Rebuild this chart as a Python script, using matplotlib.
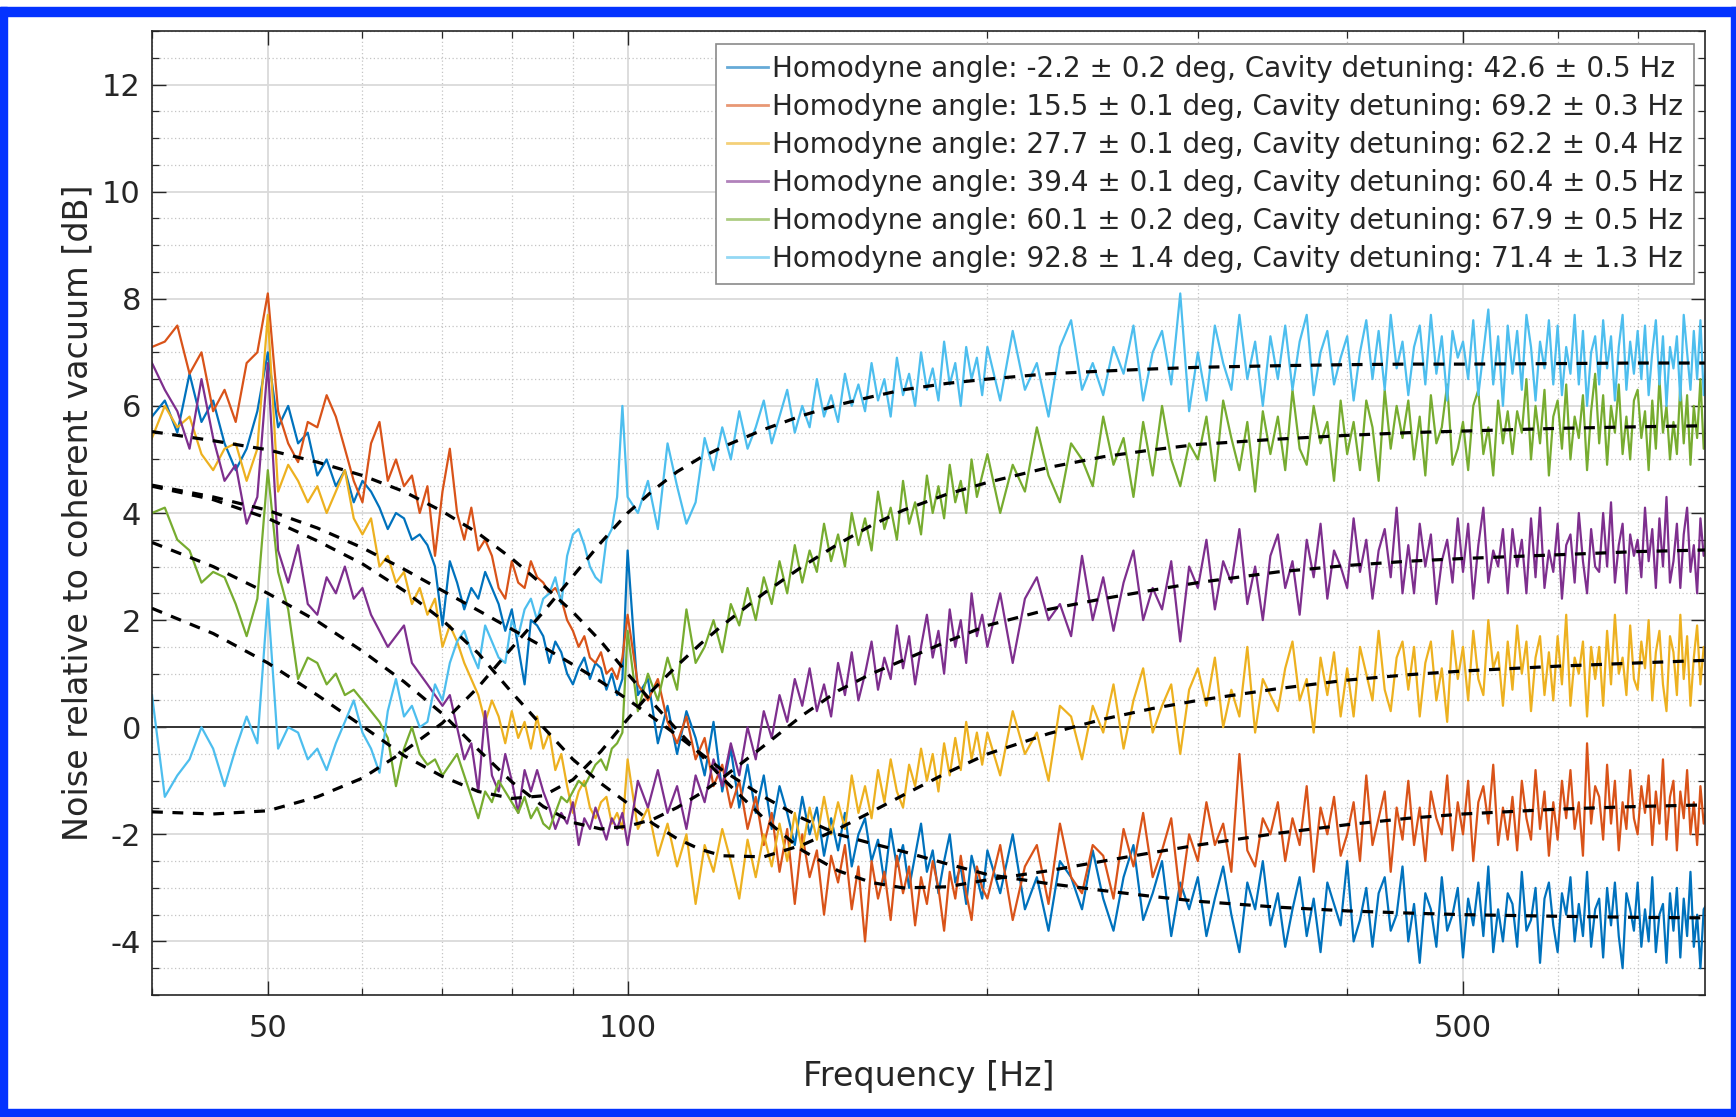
import matplotlib
matplotlib.use("Agg")
import matplotlib.pyplot as plt
from matplotlib.ticker import FixedLocator, NullFormatter, MultipleLocator
from matplotlib.patches import Rectangle
from matplotlib.lines import Line2D

# ---------------- data ----------------
# frequency bins of the measured spectra [Hz]
freq = list(range(40, 100)) + list(range(100, 200, 2)) + list(range(200, 801, 5))

blue_db = [
    5.8, 6.1, 5.5, 6.6, 5.7, 6.1, 5.3, 4.8, 5.2, 5.9,
    7.0, 5.6, 6.0, 5.3, 5.5, 4.7, 5.0, 4.5, 4.8, 4.2,
    4.6, 4.4, 4.1, 3.7, 4.0, 3.9, 3.5, 3.6, 3.4, 3.0,
    1.9, 3.1, 2.7, 2.2, 2.6, 2.4, 2.9, 2.6, 2.3, 1.8,
    2.2, 1.5, 0.8, 2.0, 1.9, 1.7, 1.2, 1.6, 1.4, 1.0,
    0.8, 1.1, 1.3, 0.9, 1.2, 1.1, 0.7, 1.0, 0.6, 0.9,
] + [
    3.3, 0.6, 0.9, -0.3, 0.4, -0.5, 0.3, -0.2, -0.9, 0.1,
    -1.2, -0.4, -1.5, -0.7, -1.6, -0.9, -1.9, -1.1, -1.6, -2.2,
    -1.3, -2.0, -1.5, -2.4, -1.7, -2.3, -1.6, -2.6, -2.0, -1.7,
    -2.5, -2.1, -2.9, -1.9, -2.6, -2.2, -3.0, -2.4, -1.8, -2.7,
    -2.3, -3.1, -2.5, -2.0, -2.9, -2.6, -3.3, -2.4, -2.8, -3.2,
] + [
    -2.3, -3.1, -2.0, -3.4, -2.8, -3.8, -2.5, -2.8, -3.4, -2.3,
    -3.2, -3.8, -2.8, -2.2, -3.6, -3.1, -2.5, -3.9, -2.9, -3.4,
    -2.8, -3.9, -3.2, -2.6, -3.5, -4.2, -2.9, -3.4, -2.5, -3.7,
    -3.1, -4.1, -3.4, -2.8, -3.9, -3.2, -4.2, -2.9, -3.3, -3.7,
    -2.5, -4.0, -3.6, -3.0, -4.1, -3.1, -2.8, -3.8, -3.5, -2.6,
    -4.0, -3.3, -4.4, -3.1, -3.4, -4.1, -2.8, -3.8, -3.5, -3.0,
    -4.3, -3.2, -3.7, -2.9, -3.9, -2.6, -4.2, -3.4, -4.0, -3.1,
    -3.3, -4.1, -2.7, -3.8, -3.6, -3.0, -4.4, -3.2, -2.9, -3.7,
    -4.2, -3.1, -3.5, -2.8, -4.0, -3.3, -3.9, -2.7, -4.1, -3.4,
    -3.2, -4.3, -3.0, -3.7, -2.9, -3.9, -4.5, -3.1, -3.4, -3.8,
    -2.9, -4.1, -3.4, -4.0, -2.8, -4.2, -3.5, -3.3, -4.4, -3.1,
    -3.8, -3.0, -4.3, -3.2, -3.9, -2.7, -4.1, -3.5, -4.5, -3.4,
    -3.3,
]

orange_db = [
    7.1, 7.2, 7.5, 6.6, 7.0, 5.9, 6.3, 5.7, 6.8, 7.0,
    8.1, 5.9, 5.3, 4.95, 5.7, 5.6, 6.2, 5.8, 5.2, 4.6,
    4.2, 5.3, 5.7, 4.6, 5.0, 4.5, 4.7, 4.0, 4.5, 3.2,
    4.4, 5.2, 4.0, 3.5, 4.1, 3.3, 3.5, 3.2, 2.6, 2.4,
    3.1, 2.7, 2.6, 3.1, 2.8, 2.7, 2.5, 2.6, 2.4, 2.0,
    1.8, 1.5, 1.7, 1.3, 1.2, 1.4, 1.0, 1.1, 0.9, 1.3,
] + [
    2.1, 0.8, 0.5, 0.9, 0.1, -0.3, 0.2, -0.6, -0.2, -1.1,
    -0.7, -1.5, -1.0, -1.9, -1.3, -2.2, -1.6, -2.7, -1.9, -3.3,
    -2.0, -2.8, -2.3, -3.5, -2.4, -2.9, -2.2, -3.4, -2.6, -4.0,
    -2.5, -3.2, -2.7, -3.6, -2.4, -3.1, -2.6, -3.7, -2.8, -3.3,
    -2.5, -3.0, -3.8, -2.7, -3.2, -2.4, -3.1, -3.6, -2.6, -3.0,
] + [
    -3.2, -2.2, -3.6, -2.6, -2.2, -3.3, -1.8, -2.8, -3.1, -2.2,
    -2.4, -3.2, -1.9, -2.6, -1.6, -2.8, -2.3, -1.7, -3.2, -2.0,
    -2.5, -1.4, -2.2, -1.8, -2.7, -0.5, -2.3, -2.6, -1.7, -2.0,
    -1.4, -2.5, -1.7, -2.2, -1.1, -2.7, -1.5, -2.0, -1.3, -2.4,
    -2.0, -1.4, -2.5, -0.9, -2.2, -1.7, -1.2, -2.7, -1.5, -2.1,
    -1.0, -2.2, -1.5, -2.5, -1.2, -1.7, -2.0, -0.9, -2.3, -1.4,
    -2.0, -1.0, -2.5, -1.4, -1.1, -1.8, -0.7, -2.2, -1.5, -2.1,
    -1.3, -2.3, -1.0, -1.7, -2.1, -0.8, -1.9, -1.2, -2.4, -1.4,
    -2.1, -1.0, -1.7, -0.8, -1.9, -1.4, -2.4, -0.3, -1.8, -1.1,
    -1.3, -2.1, -0.7, -1.8, -1.0, -2.3, -1.4, -1.9, -0.8, -1.7,
    -2.0, -1.1, -1.6, -0.9, -2.2, -1.2, -1.8, -0.6, -2.1, -1.3,
    -1.0, -2.3, -1.2, -1.7, -0.8, -2.0, -1.4, -2.2, -1.1, -1.8,
    -1.5,
]

yellow_db = [
    5.4, 6.0, 5.6, 5.8, 5.1, 4.8, 5.2, 5.3, 4.6, 5.2,
    7.7, 4.4, 4.9, 4.6, 4.2, 4.5, 4.0, 4.4, 4.8, 3.9,
    3.6, 3.9, 3.0, 3.2, 2.7, 2.9, 2.3, 2.6, 2.1, 2.4,
    1.5, 1.9, 1.6, 1.2, 0.9, 0.6, 0.1, 0.5, 0.2, -0.3,
    0.3, -0.2, 0.1, -0.4, 0.2, -0.4, -0.1, -0.8, -0.5, -1.1,
    -1.6, -1.2, -1.0, -1.5, -1.7, -1.4, -1.3, -1.8, -1.6, -1.9,
] + [
    -0.6, -1.9, -1.5, -2.4, -1.8, -2.6, -2.0, -3.3, -2.2, -2.7,
    -1.9, -2.5, -3.2, -2.1, -2.8, -2.0, -2.6, -1.8, -2.5, -1.6,
    -2.3, -1.5, -2.1, -1.3, -2.0, -1.4, -1.9, -0.9, -1.6, -1.1,
    -1.7, -0.8, -1.4, -0.6, -1.2, -1.5, -0.7, -1.1, -0.4, -1.0,
    -0.5, -1.2, -0.3, -0.9, -0.2, -0.8, 0.1, -0.6, -0.1, -0.7,
] + [
    -0.1, -0.9, 0.3, -0.5, -0.1, -1.0, 0.4, 0.2, -0.6, 0.4,
    -0.1, 0.8, -0.4, 0.5, 1.1, -0.1, 0.4, 0.8, -0.5, 0.7,
    1.1, 0.4, 1.3, 0.0, 0.7, 0.2, 1.5, -0.1, 0.9, 0.6,
    0.3, 1.1, 1.6, 0.5, 0.9, -0.1, 1.3, 0.6, 1.4, 0.2,
    1.1, 0.2, 1.5, 1.0, 0.5, 1.8, 0.7, 0.3, 1.3, 1.6,
    0.7, 1.5, 0.2, 1.2, 1.6, 0.5, 1.1, 0.1, 1.8, 0.9,
    1.5, 0.5, 1.8, 0.9, 0.6, 2.0, 1.1, 1.4, 0.4, 1.6,
    0.7, 1.9, 1.0, 1.6, 0.3, 1.3, 1.7, 0.6, 1.4, 0.5,
    1.7, 0.8, 2.1, 0.4, 1.3, 1.0, 1.6, 0.2, 1.5, 0.9,
    1.5, 0.4, 1.8, 0.8, 2.1, 1.0, 1.3, 0.6, 1.9, 0.9,
    0.7, 1.6, 1.1, 2.0, 0.5, 1.4, 1.8, 0.8, 0.3, 1.7,
    1.4, 0.6, 2.1, 0.9, 1.7, 0.4, 1.3, 1.9, 0.8, 1.5,
    1.2,
]

purple_db = [
    6.8, 6.3, 5.9, 5.2, 6.5, 5.4, 4.6, 4.9, 3.8, 4.3,
    6.8, 3.3, 2.7, 3.4, 2.3, 2.1, 2.8, 2.5, 3.0, 2.4,
    2.6, 2.1, 1.8, 1.5, 1.7, 1.9, 1.2, 1.0, 0.8, 0.6,
    0.4, 0.6, 0.0, -0.6, -0.3, -1.2, 0.3, -0.9, -1.2, -0.5,
    -1.0, -1.6, -0.8, -1.2, -0.8, -1.2, -1.5, -1.9, -1.6, -1.8,
    -1.4, -2.2, -1.7, -1.9, -1.5, -1.8, -2.1, -1.7, -1.9, -1.6,
] + [
    -2.2, -1.0, -1.5, -0.8, -1.6, -1.1, -1.9, -0.9, -1.4, -0.6,
    -1.1, -0.3, -0.9, 0.0, -0.6, 0.3, -0.2, 0.6, 0.1, 0.9,
    0.4, 1.1, 0.3, 0.8, 0.2, 1.2, 0.6, 1.4, 0.5, 1.0,
    1.6, 0.7, 1.3, 0.9, 1.9, 1.1, 1.7, 0.8, 1.5, 2.1,
    1.3, 1.8, 1.0, 2.2, 1.5, 2.0, 1.2, 2.5, 1.7, 2.1,
] + [
    1.5, 2.5, 1.2, 2.4, 2.8, 2.0, 2.3, 1.7, 3.2, 2.0,
    2.8, 1.8, 2.7, 3.3, 2.0, 2.6, 2.2, 3.1, 1.6, 3.0,
    2.6, 3.5, 2.2, 3.1, 2.7, 3.7, 2.3, 3.0, 2.0, 3.2,
    3.6, 2.6, 3.1, 2.1, 3.5, 2.8, 3.8, 2.4, 3.3, 3.0,
    2.6, 3.9, 2.9, 3.5, 2.4, 3.3, 3.7, 2.8, 4.1, 2.5,
    3.4, 2.5, 3.8, 3.0, 3.6, 2.3, 3.1, 3.5, 2.7, 3.9,
    2.9, 3.8, 2.4, 3.4, 4.1, 2.7, 3.3, 3.0, 3.7, 2.5,
    3.7, 3.0, 3.5, 2.5, 3.9, 2.8, 4.1, 2.6, 3.3, 2.9,
    3.8, 2.4, 3.4, 3.6, 2.7, 4.0, 3.1, 2.5, 3.7, 3.0,
    2.9, 4.0, 3.0, 4.2, 2.7, 3.4, 3.8, 2.5, 3.6, 3.2,
    3.5, 2.8, 4.1, 3.1, 3.7, 2.6, 3.9, 3.0, 4.3, 2.7,
    3.1, 3.8, 2.6, 3.6, 4.1, 2.9, 3.4, 2.5, 3.9, 3.2,
    3.4,
]

green_db = [
    4.0, 4.1, 3.5, 3.3, 2.7, 2.9, 2.8, 2.3, 1.7, 2.4,
    4.8, 2.9, 2.2, 0.9, 1.3, 1.2, 0.8, 1.0, 0.6, 0.7,
    0.5, 0.3, 0.1, -0.2, -1.1, -0.4, 0.0, -0.5, -0.7, -0.6,
    -0.9, -0.7, -0.5, -0.9, -1.3, -1.7, -1.2, -1.4, -1.0, -1.2,
    -1.4, -1.6, -1.3, -1.7, -1.5, -1.8, -1.9, -1.6, -1.3, -1.4,
    -1.2, -1.0, -1.1, -0.9, -0.7, -0.6, -0.8, -0.4, -0.3, -0.1,
] + [
    1.8, 0.3, 1.0, 0.5, 1.3, 0.7, 2.2, 1.2, 1.5, 2.0,
    1.4, 2.3, 1.9, 2.6, 2.0, 2.8, 2.3, 3.1, 2.5, 3.4,
    2.7, 3.3, 2.9, 3.8, 3.1, 3.6, 3.0, 4.0, 3.4, 3.9,
    3.3, 4.4, 3.7, 4.1, 3.5, 4.6, 3.8, 4.2, 3.6, 4.7,
    4.0, 4.5, 3.9, 4.9, 4.2, 4.6, 4.0, 5.0, 4.3, 4.7,
] + [
    5.1, 4.0, 4.9, 4.4, 5.6, 4.7, 4.2, 5.3, 5.0, 4.5,
    5.8, 4.9, 5.4, 4.3, 5.7, 4.7, 6.0, 5.0, 4.5, 5.3,
    5.0, 5.8, 4.6, 6.1, 5.4, 4.8, 5.7, 4.4, 5.9, 5.1,
    5.8, 4.8, 6.3, 5.2, 4.9, 6.0, 5.3, 5.7, 4.6, 6.1,
    5.1, 5.7, 4.8, 6.1, 5.6, 4.6, 6.3, 5.2, 6.0, 5.4,
    6.1, 5.0, 5.8, 4.7, 6.2, 5.3, 5.6, 6.4, 4.9, 5.2,
    5.7, 4.8, 6.0, 6.3, 5.1, 5.6, 4.7, 6.1, 5.3, 5.9,
    5.1, 5.9, 5.5, 6.5, 5.0, 6.0, 5.3, 6.3, 4.7, 5.8,
    6.1, 5.2, 6.4, 5.0, 5.8, 5.4, 6.2, 4.8, 5.9, 6.6,
    5.3, 6.2, 4.9, 6.0, 5.5, 6.4, 5.1, 5.8, 5.0, 6.1,
    6.3, 5.4, 5.9, 4.8, 6.1, 5.2, 6.5, 5.5, 6.0, 5.0,
    5.7, 5.1, 6.4, 5.3, 6.2, 4.9, 6.0, 5.4, 6.5, 5.2,
    5.9,
]

cyan_db = [
    0.6, -1.3, -0.9, -0.6, 0.0, -0.4, -1.1, -0.4, 0.2, -0.3,
    2.4, -0.4, 0.0, -0.1, -0.6, -0.4, -0.8, -0.3, 0.1, 0.5,
    -0.1, -0.4, -0.85, 0.3, 0.9, 0.2, 0.4, 0.0, 0.1, 0.8,
    0.5, 1.2, 1.6, 1.8, 1.4, 1.1, 1.9, 1.6, 1.3, 1.2,
    2.0, 1.7, 2.2, 2.4, 2.0, 2.4, 2.5, 2.8, 2.3, 3.2,
    3.6, 3.7, 3.4, 3.0, 2.8, 2.7, 3.5, 3.7, 4.3, 6.0,
] + [
    4.3, 4.0, 4.6, 3.7, 5.3, 4.5, 3.8, 4.2, 5.4, 4.8,
    5.6, 5.0, 5.9, 5.2, 5.6, 6.1, 5.3, 5.8, 6.3, 5.5,
    6.0, 5.6, 6.5, 5.8, 6.2, 5.7, 6.6, 6.0, 6.4, 5.9,
    6.8, 6.1, 6.5, 5.8, 6.9, 6.2, 6.6, 6.0, 7.0, 6.3,
    6.7, 6.1, 7.2, 6.4, 6.8, 6.0, 7.1, 6.5, 6.9, 6.2,
] + [
    7.1, 6.1, 7.4, 6.3, 6.8, 5.8, 7.1, 7.6, 6.3, 6.8,
    6.2, 7.1, 6.6, 7.5, 6.1, 7.0, 7.4, 6.4, 8.1, 5.9,
    7.0, 6.1, 7.5, 6.8, 6.3, 7.7, 6.5, 7.2, 6.0, 7.3,
    6.5, 7.5, 6.3, 7.2, 7.7, 6.2, 7.0, 7.4, 6.4, 6.9,
    7.3, 6.1, 7.0, 7.6, 6.5, 7.4, 6.3, 7.7, 6.7, 7.2,
    6.2, 7.1, 7.5, 6.4, 7.7, 6.6, 7.3, 6.1, 7.4, 6.9,
    7.2, 6.5, 7.6, 6.2, 7.0, 7.8, 6.4, 7.3, 6.0, 7.5,
    6.6, 7.4, 6.3, 7.7, 7.1, 6.1, 7.2, 6.7, 7.6, 6.4,
    7.5, 6.2, 7.1, 6.6, 7.7, 6.4, 7.4, 6.0, 7.0, 7.3,
    6.4, 7.6, 6.7, 7.3, 6.1, 7.1, 7.7, 6.3, 7.2, 6.6,
    7.4, 6.5, 7.5, 6.2, 7.0, 7.6, 6.4, 7.3, 6.0, 7.1,
    6.7, 7.3, 6.1, 7.7, 7.0, 6.3, 7.4, 6.5, 7.6, 6.2,
    6.9,
]

# fitted model curves (dashed)
fit_freq = [40, 45, 50, 55, 60, 65, 70, 75, 80, 85, 90, 95, 100, 105, 110, 115, 120,
            130, 140, 150, 160, 170, 185, 200, 225, 250, 275, 300, 350, 400, 450,
            500, 600, 700, 800]
blue_fit = [4.52, 4.3, 4.05, 3.72, 3.35, 2.95, 2.55, 2.18, 1.83, 1.5, 1.17, 0.85, 0.52,
            0.18, -0.15, -0.48, -0.8, -1.3, -1.7, -2.0, -2.17, -2.32, -2.55, -2.75,
            -2.92, -3.05, -3.16, -3.25, -3.36, -3.43, -3.47, -3.5, -3.53, -3.55, -3.56]
orange_fit = [5.52, 5.35, 5.18, 4.95, 4.7, 4.4, 4.03, 3.62, 3.15, 2.65, 2.15, 1.6, 1.0,
              0.45, -0.05, -0.5, -0.95, -1.7, -2.3, -2.68, -2.9, -3.0, -2.98, -2.85,
              -2.68, -2.5, -2.34, -2.2, -1.98, -1.82, -1.7, -1.62, -1.53, -1.48, -1.45]
yellow_fit = [4.5, 4.25, 3.9, 3.48, 3.05, 2.55, 2.0, 1.38, 0.65, 0.0, -0.6, -1.05, -1.42,
              -1.8, -2.08, -2.28, -2.4, -2.42, -2.2, -1.9, -1.58, -1.27, -0.85, -0.5,
              -0.12, 0.15, 0.35, 0.5, 0.72, 0.88, 0.98, 1.05, 1.14, 1.2, 1.25]
purple_fit = [3.45, 3.0, 2.5, 1.98, 1.42, 0.85, 0.25, -0.42, -1.02, -1.48, -1.78, -1.9,
              -1.85, -1.72, -1.5, -1.24, -0.95, -0.35, 0.22, 0.68, 1.0, 1.25, 1.6, 1.9,
              2.2, 2.4, 2.56, 2.7, 2.9, 3.02, 3.1, 3.15, 3.22, 3.28, 3.31]
green_fit = [2.22, 1.75, 1.2, 0.6, 0.02, -0.53, -0.92, -1.2, -1.33, -1.28, -0.98, -0.45,
             0.15, 0.7, 1.15, 1.55, 1.9, 2.5, 3.0, 3.42, 3.77, 4.05, 4.35, 4.57, 4.85,
             5.05, 5.18, 5.28, 5.38, 5.45, 5.5, 5.53, 5.58, 5.61, 5.63]
cyan_fit = [-1.58, -1.62, -1.56, -1.3, -0.95, -0.45, 0.08, 0.75, 1.48, 2.15, 2.82, 3.45,
            4.0, 4.42, 4.77, 5.03, 5.23, 5.56, 5.82, 6.02, 6.17, 6.3, 6.42, 6.5, 6.6,
            6.65, 6.69, 6.72, 6.75, 6.77, 6.78, 6.78, 6.79, 6.8, 6.8]

legend_labels = [
    "Homodyne angle: -2.2 \u00b1 0.2 deg, Cavity detuning: 42.6 \u00b1 0.5 Hz",
    "Homodyne angle: 15.5 \u00b1 0.1 deg, Cavity detuning: 69.2 \u00b1 0.3 Hz",
    "Homodyne angle: 27.7 \u00b1 0.1 deg, Cavity detuning: 62.2 \u00b1 0.4 Hz",
    "Homodyne angle: 39.4 \u00b1 0.1 deg, Cavity detuning: 60.4 \u00b1 0.5 Hz",
    "Homodyne angle: 60.1 \u00b1 0.2 deg, Cavity detuning: 67.9 \u00b1 0.5 Hz",
    "Homodyne angle: 92.8 \u00b1 1.4 deg, Cavity detuning: 71.4 \u00b1 1.3 Hz",
]
x_ticks = [50, 100, 500]
x_minor = [40, 60, 70, 80, 90, 200, 300, 400, 600, 700, 800]
y_ticks = [-4, -2, 0, 2, 4, 6, 8, 10, 12]

series = [blue_db, orange_db, yellow_db, purple_db, green_db, cyan_db]
fits = [blue_fit, orange_fit, yellow_fit, purple_fit, green_fit, cyan_fit]
colors = ["#0072BD", "#D95319", "#EDB120", "#7E2F8E", "#77AC30", "#4DBEEE"]

for s in series:
    assert len(s) == len(freq), (len(s), len(freq))
for f in fits:
    assert len(f) == len(fit_freq), (len(f), len(fit_freq))

# ---------------- figure ----------------
W, H = 1736, 1117
fig = plt.figure(figsize=(W / 100, H / 100), dpi=100)
fig.patch.set_facecolor("white")
ax = fig.add_axes([152 / W, 1 - 995 / H, (1705 - 152) / W, (995 - 31) / H])
ax.set_xscale("log")

for s, c in zip(series, colors):
    ax.plot(freq, s, color=c, lw=1.6, zorder=2)

ax.axhline(0, color="#333333", lw=1.4, zorder=1.8)

for f in fits:
    ax.plot(fit_freq, f, color="black", lw=2.3, ls=(0, (3.4, 3.0)), zorder=3)

ax.set_xlim(40, 797)
ax.set_ylim(-5, 13)
ax.set_xticks(x_ticks)
ax.set_xticklabels([str(t) for t in x_ticks])
ax.xaxis.set_minor_locator(FixedLocator(x_minor))
ax.xaxis.set_minor_formatter(NullFormatter())
ax.set_yticks(y_ticks)
ax.set_yticklabels([str(t) for t in y_ticks])
ax.yaxis.set_minor_locator(MultipleLocator(0.5))

ax.grid(which="major", color="#dadada", lw=1.3)
ax.grid(which="minor", color="#c4c4c4", lw=0.9, ls=(0, (1, 2)))
ax.set_axisbelow(True)

tc = "#262626"
ax.tick_params(which="major", direction="in", top=True, right=True, length=10,
               width=1.0, color=tc, labelsize=22, labelcolor=tc)
ax.tick_params(which="minor", direction="in", top=True, right=True, length=5,
               width=0.9, color=tc)
ax.tick_params(axis="y", which="major", pad=8)
ax.tick_params(axis="x", which="major", pad=14)
for sp in ax.spines.values():
    sp.set_color(tc)
    sp.set_linewidth(1.2)

ax.set_xlabel("Frequency [Hz]", fontsize=24, color=tc)
ax.set_ylabel("Noise relative to coherent vacuum [dB]", fontsize=24, color=tc)
ax.xaxis.set_label_coords(0.5, -0.067)
ax.yaxis.set_label_coords(-0.037, 0.5)

handles = [Line2D([0], [0], color=c, lw=2.0, alpha=0.6) for c in colors]
leg = ax.legend(handles, legend_labels, loc="upper right",
                bbox_to_anchor=(0.9929, 0.9865), borderaxespad=0, fontsize=20,
                handlelength=1.5, handletextpad=0.12, borderpad=0.4,
                labelspacing=0.36, frameon=True, fancybox=False,
                edgecolor="#8a8a8a", framealpha=1)
leg.get_frame().set_linewidth(1.2)
for t in leg.get_texts():
    t.set_color(tc)

# blue frame around the figure
blue = "#0433FF"
for (x0, y0, w, h) in [(0, 7, 7, H - 7), (W - 5, 7, 5, H - 7), (0, 7, W, 9), (0, H - 8, W, 8)]:
    fig.patches.append(Rectangle((x0 / W, 1 - (y0 + h) / H), w / W, h / H,
                                 transform=fig.transFigure, color=blue, zorder=10))

fig.savefig("out.png", dpi=100)
